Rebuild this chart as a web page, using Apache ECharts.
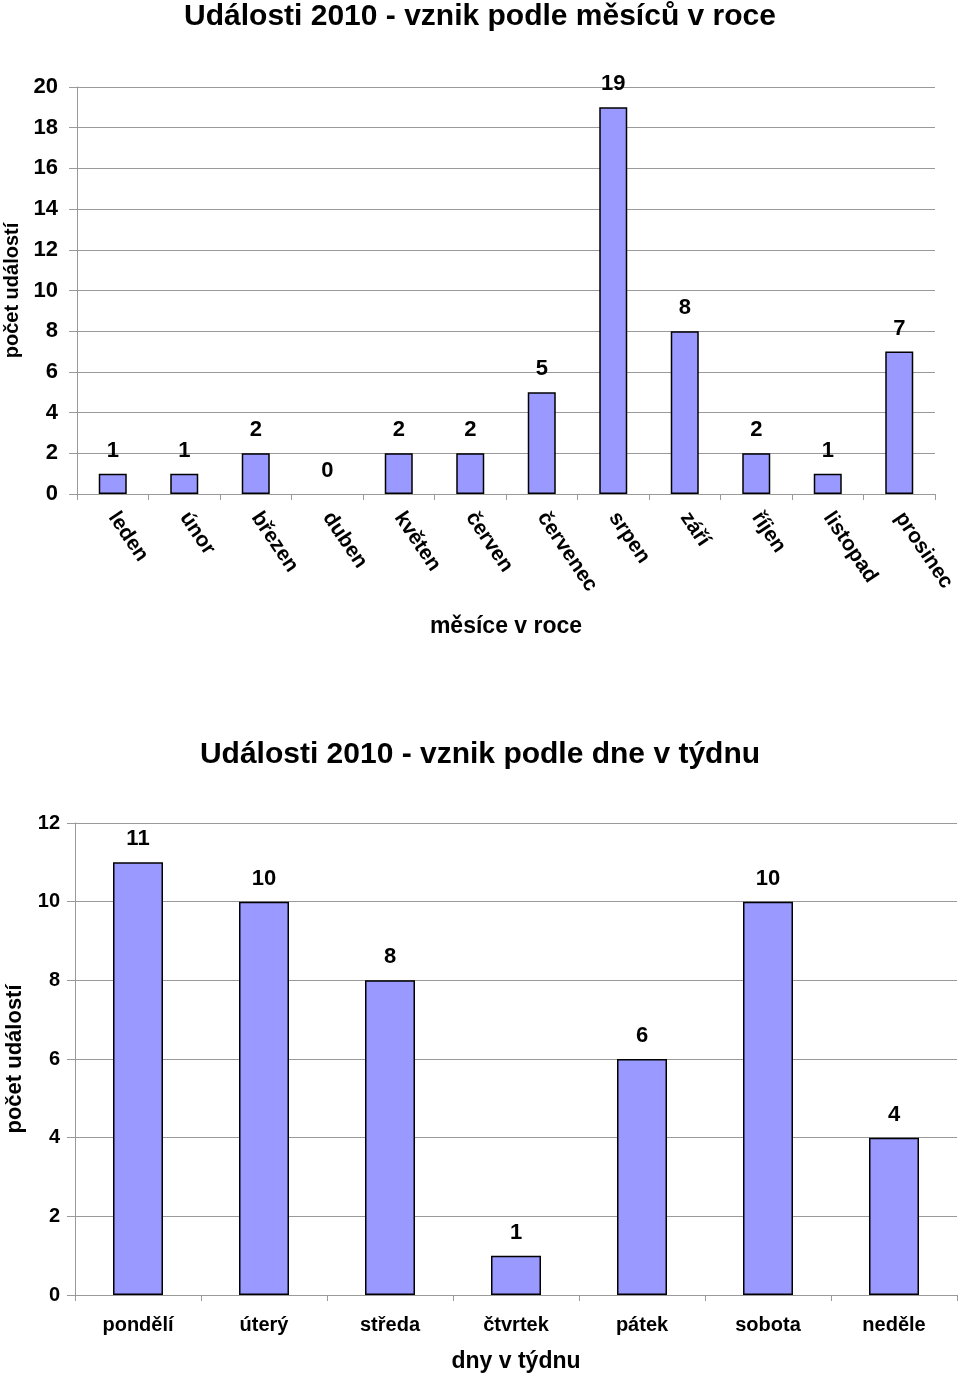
<!DOCTYPE html>
<html>
<head>
<meta charset="utf-8">
<script src="https://cdn.jsdelivr.net/npm/echarts@6/dist/echarts.min.js"></script>
<style>
html,body{margin:0;padding:0;background:#fff;}
#c{width:960px;height:1378px;}
</style>
</head>
<body>
<div id="c"></div>
<script>
const monthTitle = 'Události 2010 - vznik podle měsíců v roce';
const months = ['leden','únor','březen','duben','květen','červen','červenec','srpen','září','říjen','listopad','prosinec'];
const monthValues = [1,1,2,0,2,2,5,19,8,2,1,7];
const dayTitle = 'Události 2010 - vznik podle dne v týdnu';
const days = ['pondělí','úterý','středa','čtvrtek','pátek','sobota','neděle'];
const dayValues = [11,10,8,1,6,10,4];
const yName = 'počet událostí';
const monthAxisName = 'měsíce v roce';
const dayAxisName = 'dny v týdnu';

const FONT = '"Liberation Sans", Arial, sans-serif';
const GRID_COLOR = '#9a9a9a';
const BAR_COLOR = '#9999FF';

function barData(vals){
  return vals.map(v => v === 0 ? {value:v, itemStyle:{borderWidth:0}} : v);
}

const chart = echarts.init(document.getElementById('c'), null, {renderer:'canvas'});
chart.setOption({
  animation:false,
  backgroundColor:'#fff',
  textStyle:{fontFamily:FONT, color:'#000'},
  title:[
    {text:monthTitle, left:'center', top:-3, textStyle:{fontFamily:FONT, fontSize:30, fontWeight:'bold', color:'#000'}},
    {text:dayTitle, left:'center', top:735, textStyle:{fontFamily:FONT, fontSize:30, fontWeight:'bold', color:'#000'}}
  ],
  grid:[
    {left:77, right:25, top:87, height:407, containLabel:false, outerBoundsMode:'none'},
    {left:75, right:3, top:823, height:472, containLabel:false, outerBoundsMode:'none'}
  ],
  xAxis:[
    {type:'category', gridIndex:0, data:months,
     name:monthAxisName, nameLocation:'middle', nameGap:121,
     nameTextStyle:{fontFamily:FONT, fontSize:23, fontWeight:'bold', color:'#000'},
     axisLine:{lineStyle:{color:GRID_COLOR, width:1}},
     axisTick:{show:true, length:6, lineStyle:{color:GRID_COLOR}},
     axisLabel:{rotate:-56, margin:20, fontFamily:FONT, fontSize:21, fontWeight:'bold', color:'#000'}},
    {type:'category', gridIndex:1, data:days,
     name:dayAxisName, nameLocation:'middle', nameGap:55,
     nameTextStyle:{fontFamily:FONT, fontSize:23, fontWeight:'bold', color:'#000'},
     axisLine:{lineStyle:{color:GRID_COLOR, width:1}},
     axisTick:{show:true, length:6, lineStyle:{color:GRID_COLOR}},
     axisLabel:{margin:20, fontFamily:FONT, fontSize:20, fontWeight:'bold', color:'#000'}}
  ],
  yAxis:[
    {type:'value', gridIndex:0, min:0, max:20, interval:2,
     name:yName, nameLocation:'middle', nameGap:55,
     nameTextStyle:{fontFamily:FONT, fontSize:20, fontWeight:'bold', color:'#000'},
     axisLine:{show:true, lineStyle:{color:GRID_COLOR}},
     axisTick:{show:true, length:8, lineStyle:{color:GRID_COLOR}},
     splitLine:{lineStyle:{color:GRID_COLOR, width:1}},
     axisLabel:{margin:19, fontFamily:FONT, fontSize:22, fontWeight:'bold', color:'#000'}},
    {type:'value', gridIndex:1, min:0, max:12, interval:2,
     name:yName, nameLocation:'middle', nameGap:49,
     nameTextStyle:{fontFamily:FONT, fontSize:22, fontWeight:'bold', color:'#000'},
     axisLine:{show:true, lineStyle:{color:GRID_COLOR}},
     axisTick:{show:true, length:8, lineStyle:{color:GRID_COLOR}},
     splitLine:{lineStyle:{color:GRID_COLOR, width:1}},
     axisLabel:{margin:15, fontFamily:FONT, fontSize:20, fontWeight:'bold', color:'#000'}}
  ],
  series:[
    {type:'bar', xAxisIndex:0, yAxisIndex:0, data:barData(monthValues), barWidth:28,
     itemStyle:{color:BAR_COLOR, borderColor:'#000', borderWidth:1.5},
     label:{show:true, position:'top', distance:12, fontFamily:FONT, fontSize:22, fontWeight:'bold', color:'#000'}},
    {type:'bar', xAxisIndex:1, yAxisIndex:1, data:barData(dayValues), barWidth:50,
     itemStyle:{color:BAR_COLOR, borderColor:'#000', borderWidth:1.5},
     label:{show:true, position:'top', distance:12, fontFamily:FONT, fontSize:22, fontWeight:'bold', color:'#000'}}
  ]
});
</script>
</body>
</html>
